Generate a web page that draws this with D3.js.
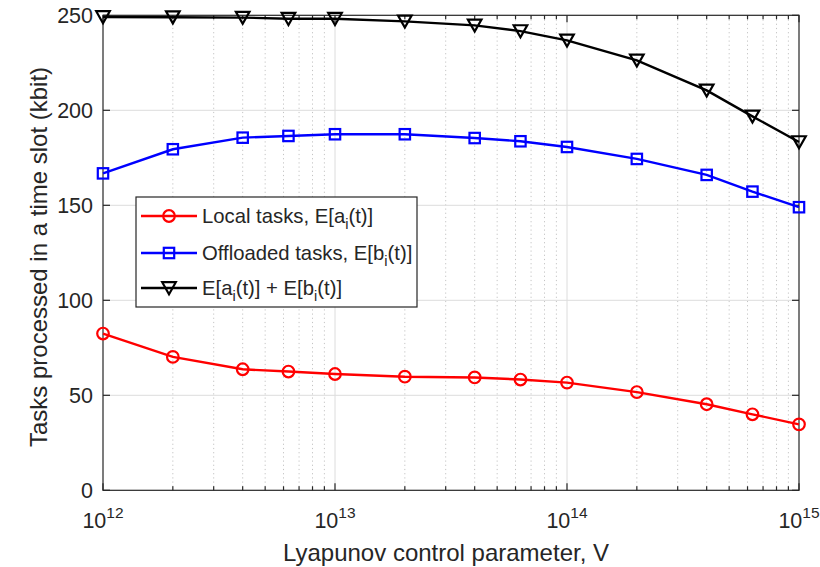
<!DOCTYPE html>
<html><head><meta charset="utf-8">
<script src="https://cdn.jsdelivr.net/npm/d3@7"></script>
<style>
body{margin:0;background:#fff;}
svg{display:block;font-family:"Liberation Sans",Arial,Helvetica,sans-serif;}
</style></head>
<body><svg id="chart" width="820" height="567"></svg>
<script>
const xValues = [1e12, 2e12, 4e12, 6.3e12, 1e13, 2e13, 4e13, 6.3e13, 1e14, 2e14, 4e14, 6.3e14, 1e15];
const localTasks = [82.5, 70.2, 63.7, 62.5, 61.2, 59.8, 59.4, 58.3, 56.7, 51.7, 45.3, 40.0, 34.7];
const offloadedTasks = [166.8, 179.5, 185.6, 186.5, 187.4, 187.4, 185.4, 183.7, 180.7, 174.4, 166.0, 157.2, 149.0];
const totalTasks = [249.1, 249.0, 248.8, 248.2, 248.2, 246.8, 244.7, 241.7, 236.8, 226.3, 210.5, 196.8, 183.3];
const yTicks = [0, 50, 100, 150, 200, 250];
const xMajorTicks = [1e12, 1e13, 1e14, 1e15];
const xTickExponents = ["12", "13", "14", "15"];
const seriesNames = [
  ["Local tasks, E[a", "i", "(t)]"],
  ["Offloaded tasks, E[b", "i", "(t)]"],
  ["E[a", "i", "(t)] + E[b", "i", "(t)]"]
];

const svg = d3.select("#chart");
const L = 103, R = 799, T = 15.3, B = 490.3;
const axisColor = "#262626";
const x = d3.scaleLog().domain([1e12, 1e15]).range([L, R]);
const y = d3.scaleLinear().domain([0, 250]).range([B, T]);

const xMinor = [];
for (let e = 12; e < 15; e++) for (let k = 2; k <= 9; k++) xMinor.push(k * Math.pow(10, e));

const grid = svg.append("g");
grid.selectAll(".mg").data(xMinor).enter().append("line")
  .attr("x1", d => x(d)).attr("x2", d => x(d)).attr("y1", T).attr("y2", B)
  .attr("stroke", "#c4c4c4").attr("stroke-width", 1).attr("stroke-dasharray", "1.2,3");
grid.selectAll(".gx").data(xMajorTicks.slice(1, -1)).enter().append("line")
  .attr("x1", d => x(d)).attr("x2", d => x(d)).attr("y1", T).attr("y2", B)
  .attr("stroke", "#dcdcdc").attr("stroke-width", 1);
grid.selectAll(".gy").data(yTicks.slice(1, -1)).enter().append("line")
  .attr("x1", L).attr("x2", R).attr("y1", d => y(d)).attr("y2", d => y(d))
  .attr("stroke", "#dcdcdc").attr("stroke-width", 1);

const ax = svg.append("g").attr("stroke", axisColor).attr("stroke-width", 1.2);
ax.append("rect").attr("x", L).attr("y", T).attr("width", R - L).attr("height", B - T).attr("fill", "none");
yTicks.forEach(v => {
  ax.append("line").attr("x1", L).attr("x2", L + 7).attr("y1", y(v)).attr("y2", y(v));
  ax.append("line").attr("x1", R).attr("x2", R - 7).attr("y1", y(v)).attr("y2", y(v));
});
xMajorTicks.forEach(v => {
  ax.append("line").attr("x1", x(v)).attr("x2", x(v)).attr("y1", B).attr("y2", B - 7);
  ax.append("line").attr("x1", x(v)).attr("x2", x(v)).attr("y1", T).attr("y2", T + 7);
});
xMinor.forEach(v => {
  ax.append("line").attr("x1", x(v)).attr("x2", x(v)).attr("y1", B).attr("y2", B - 4);
  ax.append("line").attr("x1", x(v)).attr("x2", x(v)).attr("y1", T).attr("y2", T + 4);
});

svg.append("g").selectAll("text").data(yTicks).enter().append("text")
  .attr("x", L - 10).attr("y", d => y(d)).attr("dy", "0.35em")
  .attr("text-anchor", "end").attr("font-size", 21.5).attr("fill", axisColor)
  .text(d => d);
const xl = svg.append("g").selectAll("text").data(xMajorTicks).enter().append("text")
  .attr("x", d => x(d)).attr("y", 528).attr("text-anchor", "middle")
  .attr("font-size", 21.5).attr("fill", axisColor);
xl.append("tspan").text("10");
xl.append("tspan").attr("dy", -10).attr("font-size", 15.5).text((d, i) => xTickExponents[i]);

svg.append("text").attr("x", 446).attr("y", 561).attr("text-anchor", "middle")
  .attr("font-size", 24).attr("fill", axisColor).text("Lyapunov control parameter, V");
svg.append("text").attr("transform", "translate(47,257) rotate(-90)").attr("text-anchor", "middle")
  .attr("font-size", 24).attr("fill", axisColor).text("Tasks processed in a time slot (kbit)");

const series = [
  {vals: localTasks, color: "#ff0000", marker: "circle"},
  {vals: offloadedTasks, color: "#0000ff", marker: "square"},
  {vals: totalTasks, color: "#000000", marker: "triangle"}
];
function drawMarker(g, type, cx, cy, color) {
  if (type === "circle") {
    g.append("circle").attr("cx", cx).attr("cy", cy).attr("r", 5.8)
      .attr("fill", "none").attr("stroke", color).attr("stroke-width", 2.2);
  } else if (type === "square") {
    g.append("rect").attr("x", cx - 5.2).attr("y", cy - 5.2).attr("width", 10.4).attr("height", 10.4)
      .attr("fill", "none").attr("stroke", color).attr("stroke-width", 2.2);
  } else {
    g.append("path").attr("d", `M${cx - 6.8},${cy - 5.8}L${cx + 6.8},${cy - 5.8}L${cx},${cy + 6.2}Z`)
      .attr("fill", "none").attr("stroke", color).attr("stroke-width", 2.2).attr("stroke-linejoin", "miter");
  }
}
const line = d3.line().x(d => x(d[0])).y(d => y(d[1]));
series.forEach(s => {
  const pts = xValues.map((xv, i) => [xv, s.vals[i]]);
  const g = svg.append("g");
  g.append("path").attr("d", line(pts)).attr("fill", "none").attr("stroke", s.color).attr("stroke-width", 2.4);
  pts.forEach(p => drawMarker(g, s.marker, x(p[0]), y(p[1]), s.color));
});

const lg = svg.append("g");
lg.append("rect").attr("x", 136).attr("y", 197).attr("width", 281).attr("height", 110)
  .attr("fill", "#fff").attr("stroke", axisColor).attr("stroke-width", 1.2);
const rowsY = [216, 253, 288];
series.forEach((s, i) => {
  const ry = rowsY[i];
  lg.append("line").attr("x1", 141).attr("x2", 197).attr("y1", ry).attr("y2", ry)
    .attr("stroke", s.color).attr("stroke-width", 2.4);
  drawMarker(lg, s.marker, 169, ry, s.color);
  const t = lg.append("text").attr("x", 202).attr("y", ry).attr("dy", "0.35em")
    .attr("font-size", 20.3).attr("fill", axisColor);
  const parts = seriesNames[i];
  parts.forEach((p, j) => {
    if (j % 2 === 1) {
      t.append("tspan").attr("dy", 6).attr("font-size", 14.5).text(p);
    } else {
      const ts = t.append("tspan").text(p);
      if (j > 0) ts.attr("dy", -6);
    }
  });
});
</script>
</body></html>
